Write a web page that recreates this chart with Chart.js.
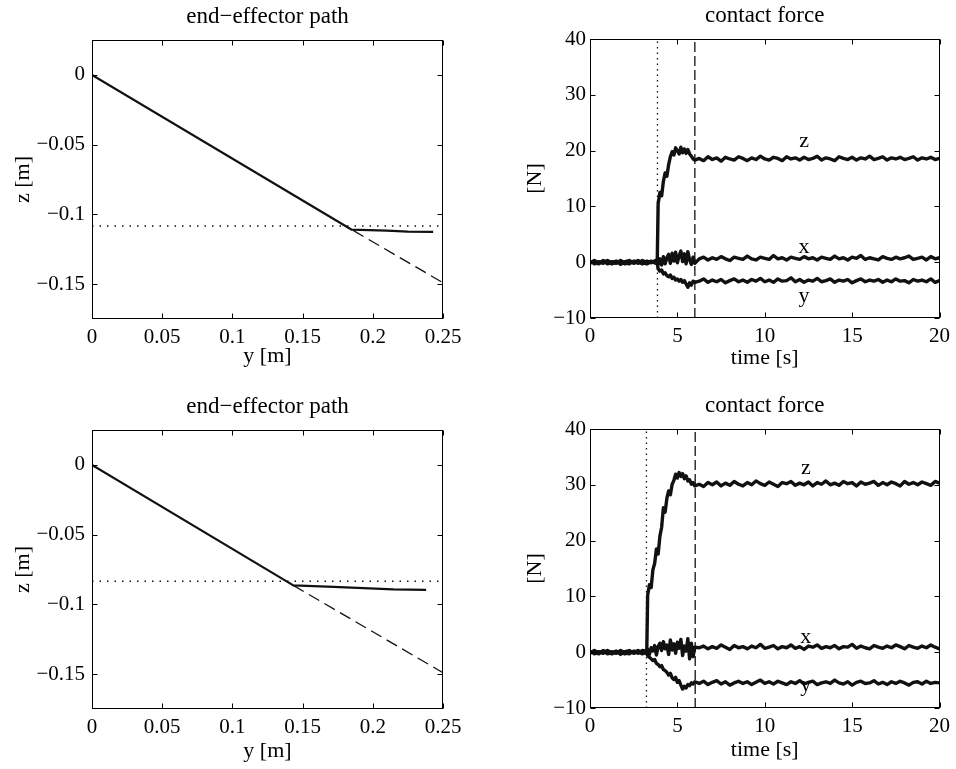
<!DOCTYPE html>
<html>
<head>
<meta charset="utf-8">
<script src="https://cdn.jsdelivr.net/npm/chart.js@4.4.1/dist/chart.umd.min.js"></script>
<style>
  body { margin: 0; background: #fff; width: 956px; height: 769px; position: relative; overflow: hidden; }
  canvas { position: absolute; }
</style>
</head>
<body>
<canvas id="pathTop" width="480" height="380" style="left:0;top:0"></canvas>
<canvas id="forceTop" width="476" height="380" style="left:480px;top:0"></canvas>
<canvas id="pathBottom" width="480" height="389" style="left:0;top:380px"></canvas>
<canvas id="forceBottom" width="476" height="389" style="left:480px;top:380px"></canvas>
<script>
// ---------- tick labels ----------
const pathXTicks = [0, 0.05, 0.1, 0.15, 0.2, 0.25];
const pathXLabels = ["0", "0.05", "0.1", "0.15", "0.2", "0.25"];
const pathZTicks = [-0.15, -0.1, -0.05, 0];
const pathZLabels = ["\u22120.15", "\u22120.1", "\u22120.05", "0"];
const timeTicks = [0, 5, 10, 15, 20];
const timeLabels = ["0", "5", "10", "15", "20"];
const forceTicks = [-10, 0, 10, 20, 30, 40];
const forceLabels = ["\u221210", "0", "10", "20", "30", "40"];

// ---------- end-effector path, top ----------
const pathYA = [0, 0.185, 0.21, 0.225, 0.243];
const pathZA = [0, -0.111, -0.1116, -0.1123, -0.1125];
const refYA = [0.186, 0.25];
const refZA = [-0.1115, -0.149];
const surfYA = [0, 0.25];
const surfZA = [-0.1083, -0.1083];

// ---------- end-effector path, bottom ----------
const pathYB = [0, 0.1434, 0.172, 0.2146, 0.238];
const pathZB = [0, -0.0864, -0.0874, -0.0893, -0.0896];
const refYB = [0.1434, 0.25];
const refZB = [-0.0864, -0.149];
const surfYB = [0, 0.25];
const surfZB = [-0.0834, -0.0834];

// ---------- contact force, top ----------
const timeA = [
  0, 0.25, 0.5, 0.75, 1, 1.25, 1.5, 1.75, 2, 2.25, 2.5, 2.75, 3, 3.25, 3.5, 3.75,
  3.85, 3.9, 4, 4.1, 4.2, 4.3, 4.4, 4.5, 4.6, 4.7, 4.8, 4.9, 5, 5.1, 5.2, 5.3, 5.4, 5.5, 5.6, 5.7, 5.8, 5.9, 6,
  6.25, 6.5, 6.75, 7, 7.25, 7.5, 7.75, 8, 8.25, 8.5, 8.75, 9, 9.25, 9.5, 9.75, 10, 10.25, 10.5, 10.75, 11,
  11.25, 11.5, 11.75, 12, 12.25, 12.5, 12.75, 13, 13.25, 13.5, 13.75, 14, 14.25, 14.5, 14.75, 15, 15.25, 15.5, 15.75, 16,
  16.25, 16.5, 16.75, 17, 17.25, 17.5, 17.75, 18, 18.25, 18.5, 18.75, 19, 19.25, 19.5, 19.75, 20
];
const forceZA = [
  0.2, -0.3, 0.1, -0.2, 0.3, -0.1, 0.2, -0.4, 0.1, 0.3, -0.2, 0.1, -0.3, 0.2, -0.1, 0.3,
  0.5, 10.5, 12.5, 11.9, 14.5, 16.0, 15.4, 17.5, 18.9, 19.8, 19.2, 20.5, 20.0, 19.4, 20.6, 19.6, 20.3, 19.5, 20.2, 19.4, 19.0, 18.5, 18.3,
  18.6, 18.2, 18.9, 18.4, 18.7, 18.1, 18.8, 18.5, 18.3, 18.9, 18.6, 18.2, 18.7, 18.4, 19.0, 18.5, 18.3, 18.8, 18.6, 18.2,
  18.9, 18.5, 18.7, 18.3, 18.8, 18.4, 18.6, 19.0, 18.3, 18.7, 18.5, 18.2, 18.9, 18.6, 18.4, 18.8, 18.3, 18.7, 18.5, 19.0,
  18.4, 18.6, 18.9, 18.3, 18.7, 18.5, 18.8, 18.4, 18.6, 18.9, 18.3, 18.7, 18.5, 18.8, 18.4, 18.6
];
const forceXA = [
  -0.2, 0.3, -0.1, 0.2, -0.3, 0.1, -0.2, 0.3, -0.1, -0.3, 0.2, -0.2, 0.3, -0.1, 0.2, -0.2,
  0.2, -0.4, 0.6, -0.5, 1.0, -0.3, 0.8, 1.4, -0.2, 1.6, 0.2, 1.8, -0.1, 1.2, 2.0, 0.1, 1.5, -0.3, 1.9, 0.4, -0.4, 0.9, -0.2,
  0.6, 0.9, 0.4, 0.8, 0.5, 1.0, 0.6, 0.3, 0.9, 0.7, 0.5, 1.1, 0.6, 0.4, 0.9, 0.7, 0.5, 1.2, 0.6, 0.8,
  0.4, 0.9, 0.7, 0.5, 1.0, 0.6, 0.8, 0.4, 0.9, 0.7, 0.5, 1.1, 0.6, 0.8, 0.4, 0.9, 0.7, 1.2, 0.5, 0.8,
  0.6, 0.4, 1.0, 0.7, 0.5, 0.9, 0.6, 0.8, 1.1, 0.5, 0.7, 0.9, 0.4, 1.0, 0.6, 0.8
];
const forceYA = [
  0.1, 0.0, -0.3, 0.3, 0.0, -0.3, 0.1, 0.0, -0.3, 0.1, 0.0, 0.3, -0.1, -0.3, 0.1, 0.0,
  -0.2, -1.2, -1.6, -1.4, -2.1, -1.9, -2.4, -2.6, -2.3, -2.9, -2.7, -3.2, -3.0, -3.4, -3.1, -3.6, -3.3, -3.9, -4.5, -3.7, -4.1, -3.4, -3.6,
  -3.4, -3.0, -3.6, -3.2, -3.5, -3.1, -3.7, -3.3, -3.0, -3.5, -3.2, -3.6, -3.1, -3.4, -2.9, -3.5, -3.2, -3.6, -3.0, -3.4,
  -3.3, -2.8, -3.5, -3.1, -3.6, -3.2, -3.4, -2.9, -3.5, -3.3, -3.0, -3.6, -3.2, -3.4, -3.1, -3.7, -3.3, -3.0, -3.5, -3.2,
  -3.4, -3.1, -3.6, -3.2, -3.5, -3.0, -3.4, -3.3, -3.7, -3.1, -3.4, -3.2, -3.5, -3.0, -3.6, -3.3
];
const contactA = 3.86;
const settleA = 6.0;

// ---------- contact force, bottom ----------
const timeB = [
  0, 0.25, 0.5, 0.75, 1, 1.25, 1.5, 1.75, 2, 2.25, 2.5, 2.75, 3,
  3.2, 3.25, 3.3, 3.4, 3.5, 3.6, 3.7, 3.8, 3.9, 4, 4.1, 4.2, 4.3, 4.4, 4.5, 4.6, 4.7, 4.8, 4.9, 5, 5.1, 5.2, 5.3, 5.4, 5.5, 5.6, 5.7, 5.8, 5.9, 6,
  6.25, 6.5, 6.75, 7, 7.25, 7.5, 7.75, 8, 8.25, 8.5, 8.75, 9, 9.25, 9.5, 9.75, 10, 10.25, 10.5, 10.75, 11,
  11.25, 11.5, 11.75, 12, 12.25, 12.5, 12.75, 13, 13.25, 13.5, 13.75, 14, 14.25, 14.5, 14.75, 15, 15.25, 15.5, 15.75, 16,
  16.25, 16.5, 16.75, 17, 17.25, 17.5, 17.75, 18, 18.25, 18.5, 18.75, 19, 19.25, 19.5, 19.75, 20
];
const forceZB = [
  0.2, -0.3, 0.1, -0.2, 0.3, -0.1, 0.2, -0.4, 0.1, 0.3, -0.2, 0.1, -0.3,
  0.3, 0.4, 10.2, 12.1, 11.6, 14.8, 15.9, 18.5, 17.6, 20.8, 22.4, 25.9, 25.1, 27.6, 28.9, 28.2, 30.1, 30.8, 31.9, 31.2, 32.2, 31.5, 32.0, 31.1, 31.6, 30.7, 30.9, 30.1, 30.4, 29.8,
  30.1, 29.7, 30.4, 30.0, 30.5, 29.8, 30.3, 29.9, 30.6, 30.1, 29.8, 30.4, 30.0, 30.7, 30.2, 29.9, 30.5, 30.1, 29.7, 30.4,
  30.2, 30.6, 29.9, 30.3, 30.0, 30.5, 29.8, 30.4, 30.1, 30.7, 30.0, 30.3, 29.9, 30.6, 30.2, 30.4, 29.8, 30.5, 30.1, 30.3,
  30.6, 29.9, 30.4, 30.0, 30.5, 30.2, 29.8, 30.6, 30.1, 30.4, 30.0, 30.5, 30.2, 29.9, 30.6, 30.3
];
const forceXB = [
  -0.2, 0.3, -0.1, 0.2, -0.3, 0.1, -0.2, 0.3, -0.1, -0.3, 0.2, -0.2, 0.3,
  0.2, -0.3, 0.5, -0.4, 0.8, 0.2, 1.2, -0.5, 1.0, 1.6, 0.3, 1.9, 0.6, 1.3, -0.4, 2.2, 0.4, 1.5, -0.2, 1.8, 0.7, 2.3, -0.6, 1.1, 0.2, 2.4, -1.2, 1.6, -0.8, 0.9,
  0.8, 1.1, 0.6, 1.0, 0.7, 1.3, 0.9, 0.5, 1.2, 0.8, 1.0, 0.6, 1.1, 0.8, 1.4, 0.7, 0.9, 1.2, 0.6, 1.0,
  0.8, 1.3, 0.7, 1.0, 0.5, 1.1, 0.9, 1.3, 0.7, 1.0, 0.8, 1.2, 0.6, 1.0, 0.9, 1.4, 0.7, 1.1, 0.8, 0.6,
  1.2, 0.9, 0.7, 1.1, 0.8, 1.3, 1.0, 0.6, 1.2, 0.9, 0.7, 1.1, 0.8, 1.3, 0.9, 0.6
];
const forceYB = [
  0.1, 0.0, -0.3, 0.3, 0.0, -0.3, 0.1, 0.0, -0.3, 0.1, 0.0, 0.3, -0.1,
  -0.2, 0.1, -0.6, -0.9, -1.2, -1.5, -1.3, -2.0, -2.2, -2.6, -2.4, -3.1, -3.3, -3.6, -4.1, -3.8, -4.6, -4.9, -4.5, -5.4, -5.1, -5.9, -6.6, -6.1, -6.4, -5.8, -6.0, -5.5, -5.7, -5.3,
  -5.6, -5.2, -5.8, -5.4, -5.1, -5.7, -5.3, -5.9, -5.5, -5.2, -5.6, -5.3, -5.8, -5.4, -5.0, -5.6, -5.3, -5.7, -5.2, -5.5,
  -5.8, -5.3, -5.6, -5.1, -5.7, -5.4, -5.2, -5.8, -5.5, -5.3, -5.6, -5.0, -5.5, -5.7, -5.3, -5.9, -5.4, -5.2, -5.6, -5.5,
  -5.1, -5.7, -5.4, -5.8, -5.3, -5.6, -5.2, -5.5, -5.9, -5.4, -5.3, -5.7, -5.2, -5.6, -5.4, -5.5
];
const contactB = 3.23;
const settleB = 6.02;

// ---------- common look ----------
const FONT = '"Liberation Serif", "Times New Roman", serif';
const INK = "#111";
Chart.defaults.font.family = FONT;
Chart.defaults.font.size = 21;
Chart.defaults.color = "#000";

const xy = (xs, ys) => xs.map((x, i) => ({ x: x, y: ys[i] }));

// box, inside tick marks, title over the plot area, curve labels
const framePlugin = {
  id: "frame",
  afterDraw(chart, args, opts) {
    const { ctx, chartArea: a, scales } = chart;
    ctx.save();
    ctx.strokeStyle = "#000";
    ctx.lineWidth = 1;
    const L = Math.round(a.left) + 0.5, R = Math.round(a.right) - 0.5;
    const T = Math.round(a.top) + 0.5, B = Math.round(a.bottom) - 0.5;
    ctx.strokeRect(L, T, R - L, B - T);
    ctx.beginPath();
    scales.x.ticks.forEach(t => {
      const px = Math.round(scales.x.getPixelForValue(t.value)) + 0.5;
      ctx.moveTo(px, B); ctx.lineTo(px, B - 5);
      ctx.moveTo(px, T); ctx.lineTo(px, T + 5);
    });
    scales.y.ticks.forEach(t => {
      const py = Math.round(scales.y.getPixelForValue(t.value)) + 0.5;
      ctx.moveTo(L, py); ctx.lineTo(L + 5, py);
      ctx.moveTo(R, py); ctx.lineTo(R - 5, py);
    });
    ctx.stroke();

    ctx.fillStyle = "#000";
    ctx.textAlign = "center";
    ctx.textBaseline = "alphabetic";
    ctx.font = "23px " + FONT;
    ctx.fillText(opts.title, (a.left + a.right) / 2, a.top - 17.5);
    ctx.font = "22px " + FONT;
    (opts.notes || []).forEach(n => {
      ctx.fillText(n.text, scales.x.getPixelForValue(n.x), scales.y.getPixelForValue(n.y));
    });
    ctx.restore();
  }
};

function axis(min, max, vals, labels, fitSize, pad, title, titlePad, horizontal) {
  return {
    type: "linear",
    min: min,
    max: max,
    grid: { display: false, drawTicks: false },
    border: { display: false },
    afterBuildTicks: s => { s.ticks = vals.map(v => ({ value: v })); },
    afterFit: s => { if (horizontal) s.height = fitSize; else s.width = fitSize; },
    ticks: {
      autoSkip: false,
      maxRotation: 0,
      padding: pad,
      color: "#000",
      font: { size: 21, family: FONT },
      callback: v => labels[vals.indexOf(v)]
    },
    title: { display: true, text: title, color: "#000", font: { size: 22, family: FONT }, padding: titlePad }
  };
}

function makeChart(id, datasets, scales, padding, frame) {
  return new Chart(document.getElementById(id), {
    type: "scatter",
    data: { datasets: datasets },
    options: {
      responsive: false,
      animation: false,
      devicePixelRatio: 1,
      layout: { padding: padding },
      plugins: { legend: { display: false }, tooltip: { enabled: false }, frame: frame },
      elements: { point: { radius: 0 }, line: { tension: 0 } },
      scales: scales
    },
    plugins: [framePlugin]
  });
}

const lineSet = (data, width, dash) => ({
  data: data, showLine: true, borderColor: INK, borderWidth: width, borderDash: dash || [],
  borderJoinStyle: "round", pointRadius: 0, fill: false
});

// ---------- path charts ----------
function pathChart(id, py, pz, ry, rz, sy, sz, top, xFit, xTitlePad) {
  makeChart(id, [
    lineSet(xy(sy, sz), 1.5, [1.5, 6]),
    lineSet(xy(ry, rz), 1.3, [12, 6]),
    lineSet(xy(py, pz), 2.2)
  ], {
    x: axis(0, 0.25, pathXTicks, pathXLabels, xFit, 6, "y [m]", { top: 0, bottom: xTitlePad }, true),
    y: axis(-0.175, 0.025, pathZTicks, pathZLabels, 92, 7, "z [m]", { top: 10, bottom: 0 }, false)
  }, { left: 0, right: 37, top: top, bottom: 0 }, { title: "end\u2212effector path" });
}

pathChart("pathTop", pathYA, pathZA, refYA, refZA, surfYA, surfZA, 40, 61, 11);
pathChart("pathBottom", pathYB, pathZB, refYB, refZB, surfYB, surfZB, 50, 60, 5);

// ---------- force charts ----------
function forceChart(id, t, fz, fx, fy, contact, settle, notes, top, xFit, xTitlePad) {
  makeChart(id, [
    lineSet([{ x: contact, y: -10 }, { x: contact, y: 40 }], 1.3, [1.5, 4]),
    lineSet([{ x: settle, y: -10 }, { x: settle, y: 40 }], 1.3, [10, 4]),
    lineSet(xy(t, fy), 3.4),
    lineSet(xy(t, fx), 3.4),
    lineSet(xy(t, fz), 3.4)
  ], {
    x: axis(0, 20, timeTicks, timeLabels, xFit, 6, "time [s]", { top: 0, bottom: xTitlePad }, true),
    y: axis(-10, 40, forceTicks, forceLabels, 110, 4, "[N]", { top: 42, bottom: 0 }, false)
  }, { left: 0, right: 15, top: top, bottom: 0 }, { title: "contact force", notes: notes });
}

forceChart("forceTop", timeA, forceZA, forceXA, forceYA, contactA, settleA, [
  { text: "z", x: 12.25, y: 20.7 },
  { text: "x", x: 12.25, y: 1.6 },
  { text: "y", x: 12.25, y: -7.1 }
], 39, 62, 9);

forceChart("forceBottom", timeB, forceZB, forceXB, forceYB, contactB, settleB, [
  { text: "z", x: 12.35, y: 31.9 },
  { text: "x", x: 12.35, y: 1.7 },
  { text: "y", x: 12.35, y: -7.0 }
], 49, 61, 6);
</script>
</body>
</html>
